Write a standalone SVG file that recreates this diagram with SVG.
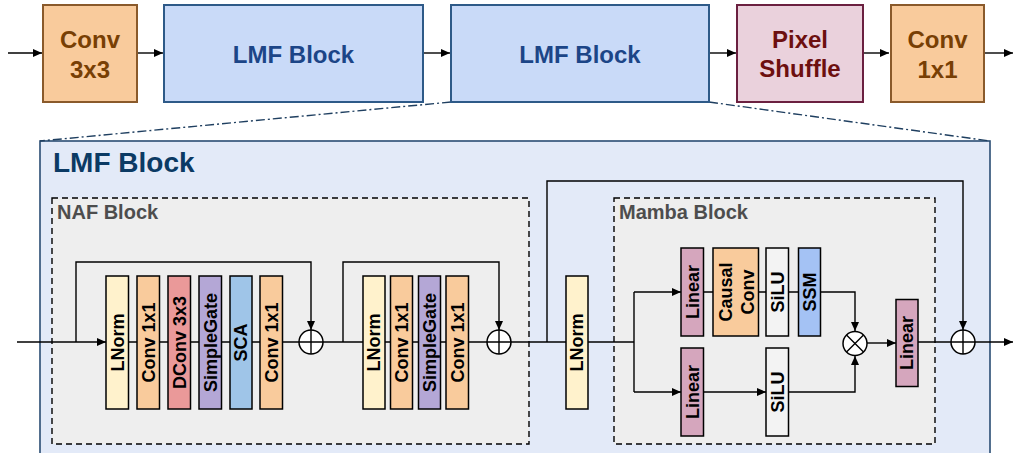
<svg xmlns="http://www.w3.org/2000/svg" width="1014" height="453" viewBox="0 0 1014 453">
<style>
text{font-family:"Liberation Sans",Arial,sans-serif;font-weight:bold}
.top{font-size:24px;text-anchor:middle}
.rt{font-size:18px;text-anchor:middle;fill:#000}
.blk{stroke:#000;stroke-width:1.5}
.ln{fill:none;stroke:#000;stroke-width:1.4}
.dd{fill:none;stroke:#1f3f60;stroke-width:1.4;stroke-dasharray:9 3 2 3}
.dash{fill:#eeeeee;stroke:#000;stroke-width:1.4;stroke-dasharray:6 4}
.orange{fill:#f9cb9c}
.cream{fill:#fff2cc}
.red{fill:#ea9999}
.purple{fill:#b4a7d6}
.sky{fill:#9fc5e8}
.pink{fill:#d5a6bd}
.white{fill:#f3f3f3}
.ssm{fill:#a4c2f4}
.op{fill:#fff;stroke:#000;stroke-width:1.5}
</style>
<defs>
<marker id="ah" markerUnits="userSpaceOnUse" markerWidth="10" markerHeight="8" refX="9" refY="4" orient="auto">
<path d="M0,0 L9,4 L0,8 Z" fill="#000"/>
</marker>
</defs>

<!-- background container -->
<g id="lmf-detail">
<rect x="40" y="141" width="950" height="330" fill="#e3eaf8" stroke="#2a4d73" stroke-width="1.6"/>
<text x="53" y="172" font-size="28" fill="#0b3a64">LMF Block</text>
</g>
<g id="naf-block">
<rect class="dash" x="52" y="198" width="477" height="246"/>
<text x="57" y="219" font-size="20" fill="#4d4d4d">NAF Block</text>
</g>
<g id="mamba-block">
<rect class="dash" x="614" y="198" width="321" height="246"/>
<text x="619" y="219" font-size="20" fill="#4d4d4d">Mamba Block</text>
</g>

<!-- connectors -->
<g id="connectors">
<path class="ln" d="M8,53 H42" marker-end="url(#ah)"/>
<path class="ln" d="M137,53 H163" marker-end="url(#ah)"/>
<path class="ln" d="M423,53 H450" marker-end="url(#ah)"/>
<path class="ln" d="M709,53 H736" marker-end="url(#ah)"/>
<path class="ln" d="M863,53 H889" marker-end="url(#ah)"/>
<path class="ln" d="M984,53 H1013" marker-end="url(#ah)"/>
<path class="dd" d="M451,102 L40,141"/>
<path class="dd" d="M709,102 L990,141"/>

<path class="ln" d="M17,342 H106" marker-end="url(#ah)"/>
<path class="ln" d="M128,342 H299"/>
<path class="ln" d="M76,342 V262 H311 V330" marker-end="url(#ah)"/>
<path class="ln" d="M323,342 H487"/>
<path class="ln" d="M343,342 V262 H499 V330" marker-end="url(#ah)"/>
<path class="ln" d="M511,342 H566"/>
<path class="ln" d="M547,342 V181 H963 V330" marker-end="url(#ah)"/>
<path class="ln" d="M588,342 H634"/>
<path class="ln" d="M634,292 V392"/>
<path class="ln" d="M634,292 H681" marker-end="url(#ah)"/>
<path class="ln" d="M634,392 H681" marker-end="url(#ah)"/>
<path class="ln" d="M703,292 H855 V331" marker-end="url(#ah)"/>
<path class="ln" d="M703,392 H766" marker-end="url(#ah)"/>
<path class="ln" d="M788,392 H855 V356" marker-end="url(#ah)"/>
<path class="ln" d="M867,343 H896" marker-end="url(#ah)"/>
<path class="ln" d="M918,342 H951"/>
<path class="ln" d="M975,342 H1013" marker-end="url(#ah)"/>
</g>

<!-- top row -->
<g id="conv3x3">
<rect x="43" y="5" width="94" height="97" fill="#f9cb9c" stroke="#8a5a2b" stroke-width="2"/>
<text class="top" x="90" y="48" fill="#783f04">Conv</text>
<text class="top" x="90" y="78" fill="#783f04">3x3</text>
</g>
<g id="lmf1">
<rect x="164" y="5" width="259" height="97" fill="#c9daf8" stroke="#2e5a88" stroke-width="2"/>
<text class="top" x="293.5" y="63" fill="#1c4587">LMF Block</text>
</g>
<g id="lmf2">
<rect x="451" y="5" width="258" height="97" fill="#c9daf8" stroke="#2e5a88" stroke-width="2"/>
<text class="top" x="580" y="63" fill="#1c4587">LMF Block</text>
</g>
<g id="pixelshuffle">
<rect x="737" y="5" width="126" height="97" fill="#ead1dc" stroke="#6b2040" stroke-width="2"/>
<text class="top" x="800" y="48" fill="#6d0f0f">Pixel</text>
<text class="top" x="800" y="77" fill="#6d0f0f">Shuffle</text>
</g>
<g id="conv1x1">
<rect x="891" y="5" width="93" height="97" fill="#f9cb9c" stroke="#8a5a2b" stroke-width="2"/>
<text class="top" x="937.5" y="48" fill="#783f04">Conv</text>
<text class="top" x="937.5" y="78" fill="#783f04">1x1</text>
</g>

<!-- NAF stage 1 -->
<g id="naf-lnorm1"><rect class="blk cream" x="106" y="276" width="22.5" height="133"/><text class="rt" transform="translate(117.3,342.5) rotate(-90)" dy="0.35em">LNorm</text></g>
<g id="naf-conv1"><rect class="blk orange" x="137" y="276" width="22.5" height="133"/><text class="rt" transform="translate(148.3,342.5) rotate(-90)" dy="0.35em">Conv 1x1</text></g>
<g id="naf-dconv"><rect class="blk red" x="168" y="276" width="22.5" height="133"/><text class="rt" transform="translate(179.3,342.5) rotate(-90)" dy="0.35em">DConv 3x3</text></g>
<g id="naf-sg1"><rect class="blk purple" x="199" y="276" width="22.5" height="133"/><text class="rt" transform="translate(210.3,342.5) rotate(-90)" dy="0.35em">SimpleGate</text></g>
<g id="naf-sca"><rect class="blk sky" x="230" y="276" width="22" height="133"/><text class="rt" transform="translate(241,342.5) rotate(-90)" dy="0.35em">SCA</text></g>
<g id="naf-conv2"><rect class="blk orange" x="260" y="276" width="22.5" height="133"/><text class="rt" transform="translate(271.3,342.5) rotate(-90)" dy="0.35em">Conv 1x1</text></g>
<g id="add1"><circle class="op" cx="311" cy="342" r="12"/><path class="ln" d="M299,342 H323 M311,330 V354"/></g>

<!-- NAF stage 2 -->
<g id="naf-lnorm2"><rect class="blk cream" x="363" y="276" width="22" height="133"/><text class="rt" transform="translate(374,342.5) rotate(-90)" dy="0.35em">LNorm</text></g>
<g id="naf-conv3"><rect class="blk orange" x="390.5" y="276" width="22" height="133"/><text class="rt" transform="translate(401.5,342.5) rotate(-90)" dy="0.35em">Conv 1x1</text></g>
<g id="naf-sg2"><rect class="blk purple" x="418.5" y="276" width="22" height="133"/><text class="rt" transform="translate(429.5,342.5) rotate(-90)" dy="0.35em">SimpleGate</text></g>
<g id="naf-conv4"><rect class="blk orange" x="446" y="276" width="22.5" height="133"/><text class="rt" transform="translate(457.3,342.5) rotate(-90)" dy="0.35em">Conv 1x1</text></g>
<g id="add2"><circle class="op" cx="499" cy="342" r="12"/><path class="ln" d="M487,342 H511 M499,330 V354"/></g>

<!-- Mamba stage -->
<g id="lnorm3"><rect class="blk cream" x="566" y="276" width="22" height="133"/><text class="rt" transform="translate(577,342.5) rotate(-90)" dy="0.35em">LNorm</text></g>
<g id="linear-up"><rect class="blk pink" x="681" y="248" width="22.5" height="88"/><text class="rt" transform="translate(692.3,292) rotate(-90)" dy="0.35em">Linear</text></g>
<g id="causal-conv"><rect class="blk orange" x="713" y="248" width="45.5" height="88"/><text class="rt" transform="translate(735.7,292) rotate(-90)"><tspan x="0" dy="-0.2em">Causal</tspan><tspan x="0" dy="1.2em">Conv</tspan></text></g>
<g id="silu-up"><rect class="blk white" x="766" y="248" width="22.5" height="88"/><text class="rt" transform="translate(777.3,292) rotate(-90)" dy="0.35em">SiLU</text></g>
<g id="ssm"><rect class="blk ssm" x="798.5" y="248" width="22" height="88"/><text class="rt" transform="translate(809.5,292) rotate(-90)" dy="0.35em">SSM</text></g>
<g id="linear-down"><rect class="blk pink" x="681" y="348" width="22.5" height="88"/><text class="rt" transform="translate(692.3,392) rotate(-90)" dy="0.35em">Linear</text></g>
<g id="silu-down"><rect class="blk white" x="766" y="348" width="22.5" height="88"/><text class="rt" transform="translate(777.3,392) rotate(-90)" dy="0.35em">SiLU</text></g>
<g id="mul"><circle class="op" cx="855" cy="343.5" r="12"/><path class="ln" d="M846.5,335 L863.5,352 M863.5,335 L846.5,352"/></g>
<g id="linear-out"><rect class="blk pink" x="896" y="299.5" width="22" height="87"/><text class="rt" transform="translate(907,343) rotate(-90)" dy="0.35em">Linear</text></g>
<g id="add3"><circle class="op" cx="963" cy="342" r="12"/><path class="ln" d="M951,342 H975 M963,330 V354"/></g>
</svg>
